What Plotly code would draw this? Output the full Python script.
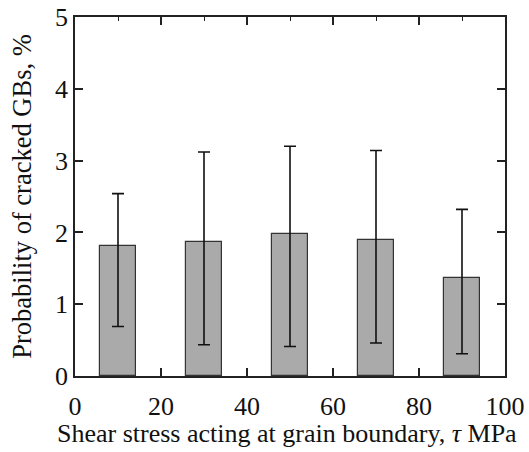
import plotly.graph_objects as go

# Data
shear_stress = [10, 30, 50, 70, 90]
probability = [1.81, 1.87, 1.98, 1.90, 1.36]
err_upper = [2.54, 3.12, 3.20, 3.14, 2.32]
err_lower = [0.69, 0.435, 0.41, 0.46, 0.31]

plus = [u - v for u, v in zip(err_upper, probability)]
minus = [v - l for v, l in zip(probability, err_lower)]

FONT = "Liberation Serif, Times New Roman, serif"

fig = go.Figure()
fig.add_trace(go.Bar(
    x=shear_stress, y=probability, width=8.6,
    marker=dict(color="#aaaaaa", line=dict(color="#333333", width=1.2)),
    error_y=dict(type="data", symmetric=False, array=plus, arrayminus=minus,
                 color="#111111", thickness=1.6, width=6),
    showlegend=False,
))

axis_common = dict(
    showline=True, linecolor="#222222", linewidth=1.6, mirror="ticks",
    ticks="inside", ticklen=8, tickwidth=1.5, tickcolor="#222222",
    showgrid=False, zeroline=False, automargin=False,
    tickfont=dict(family=FONT, size=26, color="#111111"),
)

fig.update_xaxes(
    range=[0, 100], tick0=0, dtick=20,
    minor=dict(ticks="inside", ticklen=4, tickwidth=1.2, tickcolor="#222222", dtick=10, tick0=0),
    layer="below traces",
    ticklabelstandoff=6,
    **axis_common,
)
fig.update_yaxes(
    range=[0, 5], tick0=0, dtick=1,
    title=dict(text="Probability of cracked GBs, %",
               font=dict(family=FONT, size=26.5, color="#111111"), standoff=16),
    **axis_common,
)

fig.add_annotation(
    text="Shear stress acting at grain boundary, <i>τ</i> MPa",
    xref="paper", yref="paper", x=0.492, y=0,
    xanchor="center", yanchor="top", yshift=-42, showarrow=False,
    borderpad=0,
    font=dict(family=FONT, size=26, color="#111111"),
)

fig.update_layout(
    width=529, height=452,
    margin=dict(l=75, r=24, t=17, b=76),
    paper_bgcolor="white", plot_bgcolor="white",
    bargap=0,
)

fig.write_html("out.html")
